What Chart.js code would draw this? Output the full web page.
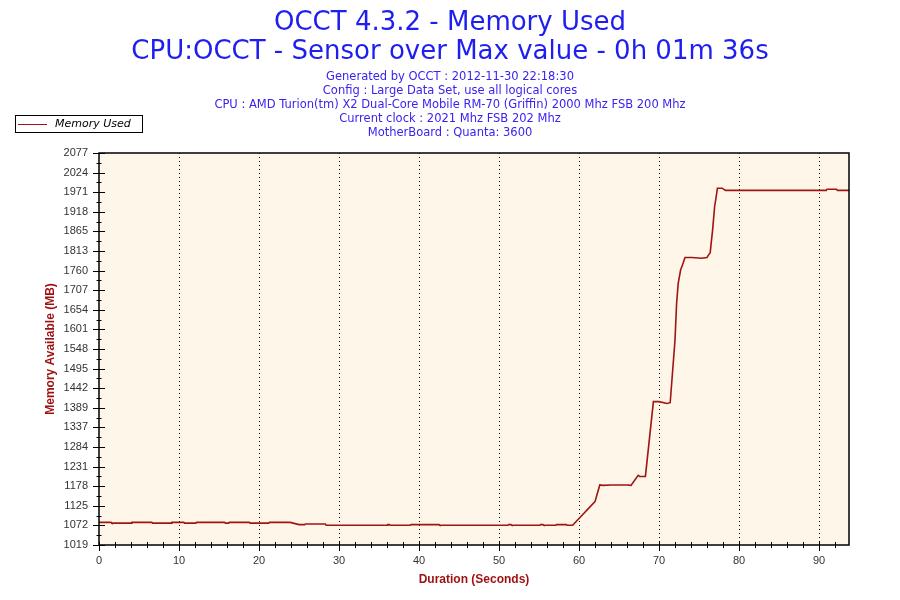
<!DOCTYPE html>
<html>
<head>
<meta charset="utf-8">
<title>OCCT 4.3.2 - Memory Used</title>
<script src="https://cdn.jsdelivr.net/npm/chart.js@4/dist/chart.umd.min.js"></script>
<style>
    html, body { margin: 0; padding: 0; background: #fff; }
    #wrap { width: 900px; height: 600px; }
</style>
</head>
<body>
<div id="wrap"><canvas id="memoryChart" width="900" height="600"></canvas></div>
<script>
// values
const seconds = [
    0, 1.5, 1.6, 4.0, 4.1, 6.6, 6.7, 9.0, 9.1, 10.6, 10.7, 12.1, 12.2, 15.7, 15.8, 16.2, 16.3,
    18.8, 18.9, 21.2, 21.3, 23.9, 25.0, 25.7, 25.8, 28.3, 28.4, 36.0, 36.1, 36.3, 36.4, 38.9,
    39.0, 42.5, 42.6, 51.1, 51.2, 51.5, 51.6, 55.1, 55.2, 55.5, 55.6, 57.1, 57.2, 58.4, 58.5,
    59.2, 62.0, 62.6, 63.0, 64.0, 66.0, 66.5, 67.4, 67.6, 68.3, 69.3, 70.0, 71.0, 71.4, 72.0,
    72.2, 72.4, 72.7, 73.0, 73.25, 74.1, 75.3, 76.0, 76.2, 76.4, 76.5, 76.7, 76.95, 77.15,
    77.3, 77.9, 78.3, 90.9, 91.0, 92.2, 92.3, 93.75,
];
const memoryUsed = [
    1080, 1080, 1078, 1078, 1080, 1080, 1078, 1078, 1080, 1080, 1078, 1078, 1080, 1080, 1078, 1078, 1080,
    1080, 1078, 1078, 1080, 1080, 1074, 1074, 1075.5, 1075.5, 1072.5, 1072.5, 1074, 1074, 1072.5, 1072.5,
    1074, 1074, 1072.5, 1072.5, 1074, 1074, 1072.5, 1072.5, 1074, 1074, 1072.5, 1072.5, 1074, 1074, 1072.5,
    1072.5, 1136, 1181, 1180, 1181, 1181, 1180, 1207, 1204, 1204, 1406, 1406, 1401, 1403, 1572,
    1671, 1725, 1761, 1779, 1795, 1795, 1793, 1795, 1802, 1808, 1829, 1869, 1932, 1959,
    1982, 1982, 1976, 1976, 1979, 1979, 1976, 1976,
];
const yTickLabels = [
    '1019', '1072', '1125', '1178', '1231', '1284', '1337', '1389', '1442', '1495', '1548',
    '1601', '1654', '1707', '1760', '1813', '1865', '1918', '1971', '2024', '2077',
];
const titleLines = ['OCCT 4.3.2 - Memory Used', 'CPU:OCCT - Sensor over Max value - 0h 01m 36s'];
const infoLines = [
    'Generated by OCCT : 2012-11-30 22:18:30',
    'Config : Large Data Set, use all logical cores',
    'CPU : AMD Turion(tm) X2 Dual-Core Mobile RM-70 (Griffin) 2000 Mhz FSB 200 Mhz',
    'Current clock : 2021 Mhz FSB 202 Mhz',
    'MotherBoard : Quanta: 3600',
];

const Y_MIN = 1019;
const Y_MAX = 2077;
const X_MAX = 93.75;
const LINE_COLOR = '#a01414';

// chart area fill, box border, tick crosses and the legend box
const occtFrame = {
    id: 'occtFrame',
    beforeDraw(chart) {
        const { ctx, chartArea: a } = chart;
        ctx.save();
        ctx.fillStyle = '#fdf6e9';
        ctx.fillRect(a.left, a.top, a.right - a.left, a.bottom - a.top);
        ctx.restore();
    },
    afterDraw(chart) {
        const { ctx, chartArea: a, scales } = chart;
        ctx.save();
        ctx.strokeStyle = '#000';
        ctx.lineWidth = 1.5;
        ctx.strokeRect(a.left, a.top, a.right - a.left, a.bottom - a.top);

        ctx.lineWidth = 1;
        ctx.beginPath();
        scales.y.ticks.forEach((tick) => {
            const y = Math.round(scales.y.getPixelForValue(tick.value)) + 0.5;
            const half = tick.major ? 6 : 2.5;
            ctx.moveTo(a.left - half, y);
            ctx.lineTo(a.left + half, y);
        });
        scales.x.ticks.forEach((tick) => {
            if (tick.value > X_MAX - 0.5) {
                return;
            }
            const x = Math.round(scales.x.getPixelForValue(tick.value)) + 0.5;
            ctx.moveTo(x, a.bottom - 3);
            ctx.lineTo(x, a.bottom + (tick.value % 10 === 0 ? 6 : 3));
        });
        ctx.stroke();

        const dataset = chart.data.datasets[0];
        ctx.fillStyle = '#fff';
        ctx.fillRect(15.5, 115.5, 127, 17);
        ctx.strokeStyle = '#000';
        ctx.strokeRect(15.5, 115.5, 127, 17);
        ctx.strokeStyle = dataset.borderColor;
        ctx.beginPath();
        ctx.moveTo(18, 124.5);
        ctx.lineTo(47, 124.5);
        ctx.stroke();
        ctx.fillStyle = '#000';
        ctx.font = 'italic 11px "DejaVu Sans"';
        ctx.textBaseline = 'middle';
        ctx.fillText(dataset.label, 55, 124);
        ctx.restore();
    },
};

new Chart(document.getElementById('memoryChart'), {
    type: 'line',
    data: {
        datasets: [{
            label: 'Memory Used',
            data: seconds.map((s, i) => ({ x: s, y: memoryUsed[i] })),
            borderColor: LINE_COLOR,
            borderWidth: 1.6,
            pointRadius: 0,
            tension: 0,
            fill: false,
        }],
    },
    options: {
        responsive: false,
        animation: false,
        devicePixelRatio: 1,
        layout: { padding: 0 },
        plugins: {
            legend: { display: false },
            tooltip: { enabled: false },
            title: {
                display: true,
                text: titleLines,
                color: '#1e1ef0',
                font: { family: '"DejaVu Sans"', size: 26, weight: 'normal', lineHeight: 29 / 26 },
                padding: { top: 9, bottom: 3 },
            },
            subtitle: {
                display: true,
                text: infoLines,
                color: '#3a22f0',
                font: { family: '"DejaVu Sans"', size: 11.5, weight: 'normal', lineHeight: 14 / 11.5 },
                padding: { top: 0, bottom: 13 },
            },
        },
        scales: {
            x: {
                type: 'linear',
                min: 0,
                max: X_MAX,
                afterFit: (scale) => { scale.height = 55; },
                afterBuildTicks: (scale) => {
                    const ticks = [];
                    for (let v = 0; v <= X_MAX; v += 2) {
                        ticks.push({ value: v, major: v % 10 === 0 });
                    }
                    scale.ticks = ticks;
                },
                border: { display: false, dash: [1, 3] },
                grid: {
                    drawTicks: false,
                    color: (c) => (c.tick && c.tick.value > 0 && c.tick.value % 10 === 0 ? '#000' : 'rgba(0,0,0,0)'),
                    lineWidth: 1,
                },
                ticks: {
                    padding: 9,
                    autoSkip: false,
                    maxRotation: 0,
                    color: '#333',
                    font: { family: '"Liberation Sans"', size: 11 },
                    callback: (value) => (value % 10 === 0 ? String(value) : ''),
                },
                title: {
                    display: true,
                    text: 'Duration (Seconds)',
                    color: '#9e1010',
                    font: { family: '"Liberation Sans"', size: 12, weight: 'bold' },
                    padding: { top: 0, bottom: 13 },
                },
            },
            y: {
                type: 'linear',
                min: Y_MIN,
                max: Y_MAX,
                afterFit: (scale) => { scale.width = 99; },
                afterBuildTicks: (scale) => {
                    const step = (Y_MAX - Y_MIN) / 40;
                    const ticks = [];
                    for (let i = 0; i <= 40; i++) {
                        ticks.push({ value: Y_MIN + i * step, major: i % 2 === 0 });
                    }
                    scale.ticks = ticks;
                },
                border: { display: false },
                grid: { display: false, drawTicks: false },
                ticks: {
                    padding: 11,
                    autoSkip: false,
                    color: '#333',
                    font: { family: '"Liberation Sans"', size: 11 },
                    callback: (value, index) => (index % 2 === 0 ? yTickLabels[index / 2] : ''),
                },
                title: {
                    display: true,
                    text: 'Memory Available (MB)',
                    color: '#9e1010',
                    font: { family: '"Liberation Sans"', size: 12, weight: 'bold' },
                    padding: { top: 43, bottom: 0 },
                },
            },
            // empty right-hand scale, only keeps the 51px margin so the titles stay centred on the page
            gap: {
                type: 'linear',
                position: 'right',
                display: true,
                afterFit: (scale) => { scale.width = 51; },
                border: { display: false },
                grid: { display: false, drawTicks: false },
                ticks: { display: false },
            },
        },
    },
    plugins: [occtFrame],
});
</script>
</body>
</html>
